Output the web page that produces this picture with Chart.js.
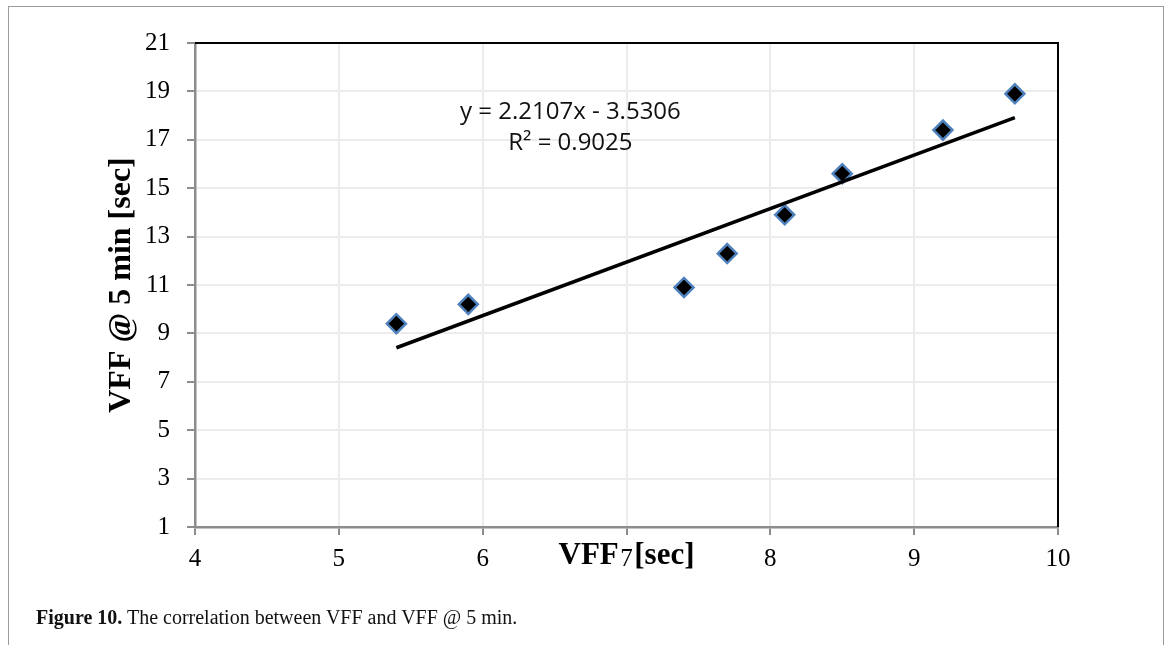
<!DOCTYPE html>
<html>
<head>
<meta charset="utf-8">
<title>VFF vs VFF @ 5 min</title>
<script src="https://cdn.jsdelivr.net/npm/chart.js@4.4.1/dist/chart.umd.min.js"></script>
<style>
    html, body { margin: 0; padding: 0; background: #fff; }
    .page { position: relative; width: 1171px; height: 645px; overflow: hidden; }
    .frame {
        position: absolute; left: 8px; top: 6px; width: 1156px; height: 650px;
        border: 1.5px solid #9a9a9a; border-bottom: none; box-sizing: border-box;
    }
    #myChart { position: absolute; left: 0; top: 0; }
    .caption {
        position: absolute; left: 36px; top: 605px;
        font-family: "Liberation Serif", serif; font-size: 20px; line-height: 24px; color: #111;
        white-space: nowrap;
    }
</style>
</head>
<body>
<div class="page">
    <div class="frame"></div>
    <canvas id="myChart" width="1171" height="645"></canvas>
    <div class="caption"><b>Figure 10.</b> The correlation between VFF and VFF @ 5 min.</div>
</div>
<script>
// values
const vffSec = [5.4, 5.9, 7.4, 7.7, 8.1, 8.5, 9.2, 9.7];
const vff5min = [9.4, 10.2, 10.9, 12.3, 13.9, 15.6, 17.4, 18.9];

const xTickValues = [4, 5, 6, 7, 8, 9, 10];
const yTickValues = [1, 3, 5, 7, 9, 11, 13, 15, 17, 19, 21];

// excel linear trendline as printed on the chart
const trendSlope = 2.2107;
const trendIntercept = -3.5306;
const trendLabels = ["y = 2.2107x - 3.5306", "R\u00b2 = 0.9025"];

const points = vffSec.map((x, i) => ({ x: x, y: vff5min[i] }));
const xMin = Math.min(...vffSec);
const xMax = Math.max(...vffSec);
const trend = [xMin, xMax].map((x) => ({ x: x, y: trendSlope * x + trendIntercept }));

const axisGray = "#8c8c8c";
const gridGray = "#ececec";

// black top + right edge of the plot area, like the excel chart
const plotFrame = {
    id: "plotFrame",
    beforeDatasetsDraw(chart) {
        const { ctx, chartArea } = chart;
        ctx.save();
        ctx.strokeStyle = "#000";
        ctx.lineWidth = 2;
        ctx.beginPath();
        ctx.moveTo(chartArea.left, chartArea.top);
        ctx.lineTo(chartArea.right, chartArea.top);
        ctx.lineTo(chartArea.right, chartArea.bottom);
        ctx.stroke();
        ctx.restore();
    },
};

// trendline equation text, anchored in data units
const trendText = {
    id: "trendText",
    afterDatasetsDraw(chart) {
        const { ctx, scales } = chart;
        ctx.save();
        ctx.font = "24px 'Open Sans'";
        ctx.fillStyle = "#111";
        ctx.textAlign = "center";
        ctx.textBaseline = "middle";
        ctx.fillText(trendLabels[0], scales.x.getPixelForValue(6.61), scales.y.getPixelForValue(18.15));
        ctx.fillText(trendLabels[1], scales.x.getPixelForValue(6.61), scales.y.getPixelForValue(16.87));
        ctx.restore();
    },
};

const tickFont = { family: "'Liberation Serif'", size: 25 };
const titleFont = { family: "'Liberation Serif'", size: 31, weight: "bold", lineHeight: 1.2 };

const config = {
    type: "scatter",
    data: {
        datasets: [
            {
                label: "VFF @ 5 min",
                data: points,
                pointStyle: "rectRot",
                pointRadius: 9.5,
                pointHoverRadius: 9.5,
                backgroundColor: "#000",
                borderColor: "#4f81bd",
                borderWidth: 2.5,
                order: 2,
            },
            {
                type: "line",
                label: "Linear",
                data: trend,
                borderColor: "#000",
                borderWidth: 3.5,
                pointRadius: 0,
                fill: false,
                order: 1,
            },
        ],
    },
    options: {
        responsive: false,
        animation: false,
        devicePixelRatio: 1,
        layout: {
            padding: { left: 103, top: 43, right: 113, bottom: 68 },
        },
        plugins: {
            legend: { display: false },
            tooltip: { enabled: false },
        },
        scales: {
            x: {
                type: "linear",
                min: 4,
                max: 10,
                afterBuildTicks: (scale) => { scale.ticks = xTickValues.map((v) => ({ value: v })) },
                afterFit: (scale) => { scale.height = 50 },
                ticks: { font: tickFont, color: "#000", padding: 9, maxRotation: 0 },
                grid: { color: gridGray, lineWidth: 2, tickColor: axisGray, tickLength: 8, tickWidth: 2 },
                border: { color: axisGray, width: 2.5 },
                title: {
                    display: true,
                    // wide gap: the "7" tick label sits inside the title, as in the original
                    text: "VFF\u2002[sec]",
                    color: "#000",
                    font: titleFont,
                    padding: { top: 0, bottom: 2 },
                },
            },
            y: {
                type: "linear",
                min: 1,
                max: 21,
                afterBuildTicks: (scale) => { scale.ticks = yTickValues.map((v) => ({ value: v })) },
                afterFit: (scale) => { scale.width = 92 },
                ticks: { font: tickFont, color: "#000", padding: 17 },
                grid: { color: gridGray, lineWidth: 2, tickColor: axisGray, tickLength: 8, tickWidth: 2 },
                border: { color: axisGray, width: 2.5 },
                title: {
                    display: true,
                    text: "VFF @ 5 min [sec]",
                    color: "#000",
                    font: { family: "'Liberation Serif'", size: 32, weight: "bold", lineHeight: 1.2 },
                    padding: { top: 0, bottom: 0 },
                },
            },
        },
    },
    plugins: [plotFrame, trendText],
};

const ctx = document.getElementById("myChart").getContext("2d");
const myChart = new Chart(ctx, config);
</script>
</body>
</html>
